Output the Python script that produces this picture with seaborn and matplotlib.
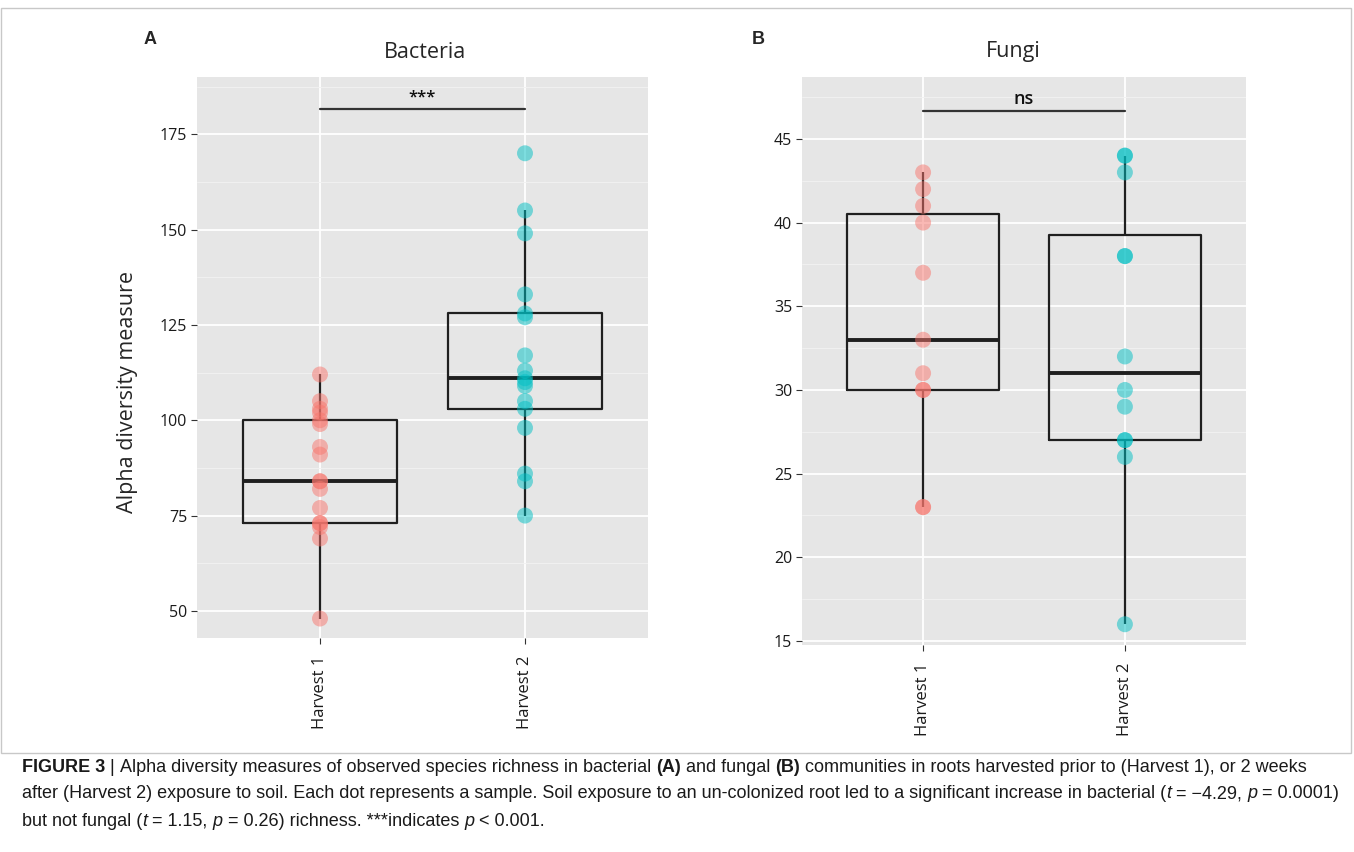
import pandas as pd
import matplotlib.pyplot as plt
import seaborn as sns
from matplotlib.ticker import MultipleLocator
from matplotlib.patches import Rectangle

# values
groups = ["Harvest 1", "Harvest 2"]
bact_h1 = [48, 69, 72, 73, 73, 77, 82, 84, 84, 91, 93, 99, 100, 102, 103, 105, 112]
bact_h2 = [75, 84, 86, 98, 103, 105, 109, 110, 111, 113, 117, 127, 128, 133, 149, 155, 170]
fungi_h1 = [23, 23, 30, 30, 31, 33, 37, 40, 41, 42, 43]
fungi_h2 = [16, 26, 27, 27, 29, 30, 32, 38, 38, 43, 44, 44]
colors = ["#F8766D", "#00BFC4"]

W, H = 1354, 852

sns.set_theme(style="darkgrid", rc={"axes.facecolor": "#E6E6E6", "grid.color": "white"})
plt.rcParams["font.family"] = ["Open Sans", "DejaVu Sans"]


def make_df(h1, h2):
    return pd.DataFrame({"group": [groups[0]] * len(h1) + [groups[1]] * len(h2),
                         "value": h1 + h2})


def draw_panel(ax, df, ylim, major, sig, ybar, ysig, sig_size):
    sns.boxplot(data=df, x="group", y="value", order=groups, ax=ax, fill=False,
                color="#1F1F1F", width=0.75, showfliers=False, showcaps=False,
                linewidth=1.6, medianprops=dict(linewidth=2.8), whis=1.5)
    sns.stripplot(data=df, x="group", y="value", hue="group", order=groups,
                  hue_order=groups, palette=colors, jitter=False, size=11.5,
                  alpha=0.5, linewidth=0, legend=False, ax=ax, zorder=3)
    ax.set_xlim(-0.6, 1.6)
    ax.set_ylim(*ylim)
    ax.yaxis.set_major_locator(MultipleLocator(major))
    ax.yaxis.set_minor_locator(MultipleLocator(major / 2))
    ax.set_axisbelow(True)
    ax.grid(True, which="major", color="white", lw=1.3)
    ax.grid(True, which="minor", axis="y", color="#F2F2F2", lw=0.6)
    for s in ax.spines.values():
        s.set_visible(False)
    ax.tick_params(axis="both", which="major", length=4, width=0.8, color="#333333",
                   left=True, bottom=True, labelcolor="#1A1A1A")
    ax.tick_params(axis="y", labelsize=11.5, pad=3)
    ax.tick_params(axis="x", labelsize=12, labelrotation=90, pad=9)
    ax.tick_params(which="minor", length=0)
    ax.set_xlabel("")
    ax.set_ylabel("")
    ax.plot([0, 1], [ybar, ybar], color="#333333", lw=1.6, clip_on=False)
    ax.text(0.5, ysig, sig, ha="center", va="center", fontsize=sig_size,
            color="#111111", fontweight="semibold")


fig = plt.figure(figsize=(W / 100, H / 100), dpi=100)
fig.patch.set_facecolor("white")

axA = fig.add_axes([197 / W, 1 - 638 / H, 451 / W, 561 / H])
axB = fig.add_axes([802 / W, 1 - 645 / H, 444 / W, 568 / H])

draw_panel(axA, make_df(bact_h1, bact_h2), (42.9, 190), 25, "***", 181.6, 184.6, 12)
draw_panel(axB, make_df(fungi_h1, fungi_h2), (14.76, 48.7), 5, "ns", 46.67, 47.4, 13)

# titles, panel letters, y label
fig.text(425 / W, 1 - 52 / H, "Bacteria", ha="center", va="center", fontsize=15.5)
fig.text(1013 / W, 1 - 52 / H, "Fungi", ha="center", va="center", fontsize=15.5)
fig.text(150 / W, 1 - 40 / H, "A", ha="center", va="center", fontsize=13,
         fontweight="bold", family=["Liberation Sans", "DejaVu Sans"])
fig.text(758 / W, 1 - 40 / H, "B", ha="center", va="center", fontsize=13,
         fontweight="bold", family=["Liberation Sans", "DejaVu Sans"])
fig.text(128 / W, 1 - 392 / H, "Alpha diversity measure", ha="center", va="center",
         rotation=90, fontsize=15.5)

# light frame round the figure area
fig.add_artist(Rectangle((1 / W, 1 - 753 / H), 1350 / W, 745 / H, transform=fig.transFigure,
                         fill=False, edgecolor="#C8C8C8", lw=1))

# caption with mixed bold / italic runs
cap_family = ["Liberation Sans", "DejaVu Sans"]
cap_lines = [
    [("FIGURE 3 ", "bold", "normal"), ("| ", "normal", "normal"),
     ("Alpha diversity measures of observed species richness in bacterial ", "normal", "normal"),
     ("(A)", "bold", "normal"), (" and fungal ", "normal", "normal"), ("(B)", "bold", "normal"),
     (" communities in roots harvested prior to (Harvest 1), or 2 weeks", "normal", "normal")],
    [("after (Harvest 2) exposure to soil. Each dot represents a sample. Soil exposure to an "
      "un-colonized root led to a significant increase in bacterial (", "normal", "normal"),
     ("t", "normal", "italic"), (" = \u22124.29, ", "normal", "normal"), ("p", "normal", "italic"),
     (" = 0.0001)", "normal", "normal")],
    [("but not fungal (", "normal", "normal"), ("t", "normal", "italic"),
     (" = 1.15, ", "normal", "normal"), ("p", "normal", "italic"),
     (" = 0.26) richness. ***indicates ", "normal", "normal"), ("p", "normal", "italic"),
     (" < 0.001.", "normal", "normal")],
]
cap_y = [767, 794, 821]

renderer = fig.canvas.get_renderer()
for line, yy in zip(cap_lines, cap_y):
    x = 22
    for s, wt, st in line:
        t = fig.text(x / W, 1 - yy / H, s, ha="left", va="center", fontsize=13,
                     fontweight=wt, fontstyle=st, family=cap_family, color="#1A1A1A")
        x += t.get_window_extent(renderer).width

fig.savefig("out.png", dpi=100)
